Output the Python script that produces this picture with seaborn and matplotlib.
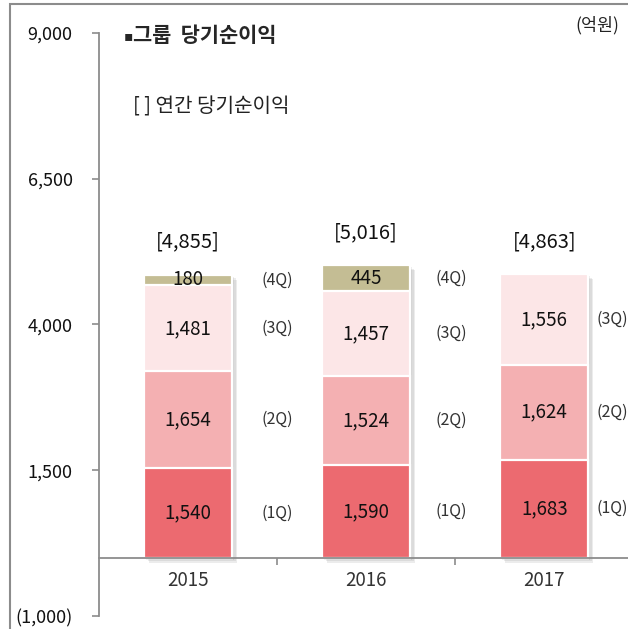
import matplotlib
matplotlib.use('Agg')
import matplotlib.pyplot as plt
import matplotlib.patheffects as pe
from matplotlib.patches import Rectangle
import pandas as pd
import seaborn as sns

# 데이터 (단위: 억원)
years = ['2015', '2016', '2017']
q1 = [1540, 1590, 1683]
q2 = [1654, 1524, 1624]
q3 = [1481, 1457, 1556]
q4 = [180, 445, 0]  # 2017년 4Q 없음
annual = [4855, 5016, 4863]
quarter_names = ['(1Q)', '(2Q)', '(3Q)', '(4Q)']

ytick_vals = [-1000, 1500, 4000, 6500, 9000]
ytick_labels = ['(1,000)', '1,500', '4,000', '6,500', '9,000']

colors = ['#EC6A70', '#F4B0B2', '#FCE6E7', '#C4BD94']
grey = '#8c8c8c'

sns.set_style('white')
plt.rcParams['font.family'] = ['Noto Sans CJK KR', 'DejaVu Sans']

df = pd.DataFrame({'year': years, '1Q': q1, '2Q': q2, '3Q': q3, '4Q': q4})
cols = ['1Q', '2Q', '3Q', '4Q']
cum = df[cols].cumsum(axis=1)

fig = plt.figure(figsize=(6.28, 6.29), dpi=100)
ax = fig.add_axes([99/628, 1 - 616/629, 529/628, 583/629])

# 부드러운 그림자 (여러 겹)
shadow = [pe.SimplePatchShadow(offset=(d, -d), shadow_rgbFace='#666', alpha=0.12) for d in (3.5, 2.5, 1.5)]

# 누적 막대: 가장 큰 것부터 겹쳐 그림
for i in reversed(range(4)):
    sns.barplot(x=df['year'], y=cum[cols[i]], color=colors[i], saturation=1,
                width=0.494, edgecolor='white', linewidth=1.6, ax=ax)
    if i == 3:
        for p in ax.patches:
            p.set_path_effects(shadow + [pe.Normal()])

# 막대 안 숫자 + 분기 라벨
qx = [0.5, 1.48, 2.38]
for j in range(len(years)):
    for i, c in enumerate(cols):
        v = df[c][j]
        if v <= 0:
            continue
        mid = cum[c][j] - v / 2
        ax.text(j, mid, f'{v:,}', ha='center', va='center', fontsize=13.5, color='#111')
        ax.text(qx[j], mid, quarter_names[i], ha='center', va='center', fontsize=11.5, color='#333')
    ax.text(j, annual[j] + 560, f'[{annual[j]:,}]', ha='center', va='center', fontsize=14.5, color='#111')

ax.set_xlim(-0.5, 2.47)
ax.set_ylim(-1000, 9000)
ax.set_yticks(ytick_vals, ytick_labels)
ax.set_xticks([0, 1, 2], years)
ax.set_xticks([0.5, 1.5], minor=True)
ax.set_xlabel('')
ax.set_ylabel('')

for s in ['top', 'right']:
    ax.spines[s].set_visible(False)
ax.spines['bottom'].set_position(('data', 0))
for s in ['left', 'bottom']:
    ax.spines[s].set_color(grey)
    ax.spines[s].set_linewidth(1.3)

ax.tick_params(axis='y', left=True, length=5, width=1.2, color=grey, pad=14,
               labelsize=13, labelcolor='#111')
ax.tick_params(axis='x', which='major', bottom=True, length=0, pad=9, labelsize=13.5, labelcolor='#333')
ax.tick_params(axis='x', which='minor', bottom=True, length=5, width=1.2, color=grey)

# 제목, 범례 설명, 단위
fig.text(124/628, 1 - 36/629, '▪', family='DejaVu Sans', fontsize=10, va='center')
fig.text(133/628, 1 - 35/629, '그룹  당기순이익', fontsize=15, fontweight='bold', va='center')
fig.text(133/628, 1 - 107/629, '[ ] 연간 당기순이익', fontsize=14.5, va='center', color='#222')
fig.text(619/628, 1 - 25/629, '(억원)', fontsize=12.5, ha='right', va='center', color='#222')

# 바깥 테두리 (왼쪽, 위쪽만 보임)
fig.add_artist(Rectangle((9.5/628, -0.05), 1.1, 1.05 - 3.5/629, transform=fig.transFigure,
                         fill=False, edgecolor=grey, linewidth=1.5))

fig.savefig('out.png', dpi=100)
